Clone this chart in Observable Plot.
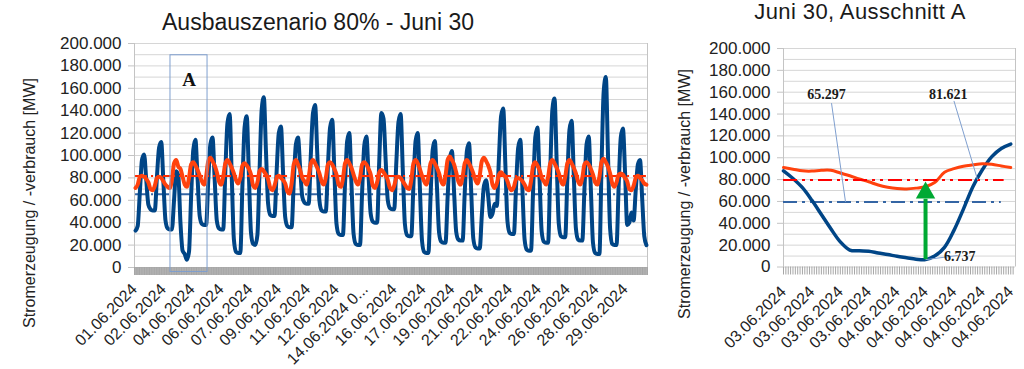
<!DOCTYPE html>
<html>
<head>
<meta charset="utf-8">
<script src="https://cdn.jsdelivr.net/npm/d3@7"></script>
<script src="https://cdn.jsdelivr.net/npm/@observablehq/plot@0.6"></script>
<style>
  html, body { margin: 0; padding: 0; background: #fff; }
  #wrap { position: relative; width: 1024px; height: 369px; overflow: hidden;
          font-family: "Liberation Sans", Arial, sans-serif; color: #222; }
  .t { position: absolute; white-space: nowrap; line-height: 1; }
  .title { font-size: 23px; line-height: 19px; color: #1a1a1a; transform: translateX(-50%); }
  .title2 { font-size: 22px; line-height: 19px; color: #1a1a1a; transform: translateX(-50%); letter-spacing: 0.4px; }
  .ytitle { font-size: 16px; line-height: 16px; transform: translate(-50%, -50%) rotate(-90deg); color: #222; }
  svg { position: absolute; top: 0; overflow: visible; }
</style>
</head>
<body>
<div id="wrap"></div>
<script>
// ---------------- DATA ----------------
// Left chart: June 2024, sampled every 3 hours (hour offsets within each day)
const sampleHours = [1.5, 4.5, 7.5, 10.5, 13.5, 16.5, 19.5, 22.5];

// Stromerzeugung (generation), thousand MW, 8 samples per day, 30 days
const generation = [
  33, 37, 67, 96, 101, 78, 56, 52,
  51, 51, 81, 107, 112, 77, 42, 35,
  34, 34, 60, 86, 82, 40, 15, 12,
  7, 14, 64, 105, 114, 80, 46, 39,
  38, 38, 77, 110, 116, 79, 42, 35,
  34, 34, 86, 129, 137, 81, 25, 14,
  13, 13, 74, 125, 135, 83, 31, 21,
  20, 29, 86, 141, 152, 104, 57, 47,
  46, 46, 86, 120, 126, 85, 45, 37,
  36, 36, 76, 110, 116, 89, 63, 58,
  57, 57, 101, 138, 145, 102, 60, 51,
  50, 50, 91, 125, 132, 86, 39, 30,
  29, 29, 75, 113, 120, 75, 30, 21,
  20, 20, 68, 109, 117, 82, 48, 41,
  40, 40, 95, 138, 133, 96, 60, 53,
  52, 52, 94, 130, 137, 88, 39, 29,
  28, 28, 74, 113, 120, 72, 24, 14,
  13, 13, 63, 105, 113, 72, 31, 23,
  22, 22, 63, 97, 104, 68, 32, 25,
  24, 24, 67, 104, 111, 69, 26, 18,
  17, 17, 47, 73, 78, 63, 45, 48,
  57, 55, 98, 135, 142, 92, 41, 31,
  30, 30, 72, 107, 114, 69, 25, 16,
  15, 15, 70, 116, 125, 79, 32, 23,
  22, 22, 86, 141, 151, 95, 39, 28,
  27, 27, 79, 123, 131, 83, 35, 25,
  24, 24, 70, 110, 117, 70, 22, 13,
  12, 12, 91, 157, 170, 102, 35, 21,
  20, 20, 72, 116, 124, 85, 38, 40,
  49, 42, 69, 92, 96, 62, 28, 20
];

// Stromverbrauch (consumption), thousand MW, 8 samples per day, 30 days
const consumption = [
  71, 74, 81, 82, 81, 79, 76, 70,
  69, 73, 80, 81, 80, 77, 74, 72,
  71, 78, 93, 96, 90, 88, 81, 74,
  72, 80, 92, 94, 91, 87, 82, 77,
  74, 81, 95, 98, 95, 91, 85, 77,
  74, 81, 93, 96, 93, 89, 84, 78,
  75, 80, 91, 93, 91, 88, 83, 73,
  71, 76, 86, 88, 86, 83, 79, 71,
  69, 73, 80, 82, 80, 78, 75, 68,
  66, 75, 92, 96, 92, 87, 80, 77,
  74, 81, 93, 96, 93, 89, 84, 77,
  74, 80, 92, 94, 92, 88, 83, 74,
  72, 79, 93, 96, 93, 89, 83, 77,
  74, 80, 92, 94, 92, 88, 83, 73,
  71, 76, 85, 87, 85, 82, 78, 71,
  69, 73, 80, 81, 80, 77, 74, 71,
  70, 78, 93, 96, 93, 88, 82, 77,
  74, 81, 93, 96, 93, 89, 84, 77,
  74, 82, 96, 99, 96, 92, 85, 77,
  74, 81, 93, 96, 93, 89, 84, 78,
  75, 82, 95, 98, 95, 91, 85, 74,
  71, 75, 83, 85, 83, 81, 77, 71,
  69, 72, 79, 80, 79, 77, 74, 70,
  69, 77, 91, 94, 91, 87, 80, 77,
  74, 81, 93, 96, 93, 89, 84, 77,
  74, 81, 93, 96, 93, 89, 84, 77,
  74, 80, 92, 94, 92, 88, 83, 76,
  74, 81, 94, 97, 94, 90, 84, 75,
  72, 76, 83, 84, 83, 80, 77, 70,
  69, 73, 80, 82, 80, 78, 75, 74
];

const meanGeneration = 65297;   // MW
const meanConsumption = 81621;  // MW
const monthHours = 720;

const xTickHours = [0, 40.5, 81, 121.5, 162, 202.5, 243, 283.5, 324, 364.5, 405, 445.5, 486, 526.5, 567, 607.5, 648, 688.5];
const xTickLabels = ["01.06.2024", "02.06.2024", "04.06.2024", "06.06.2024", "07.06.2024", "09.06.2024",
  "11.06.2024", "12.06.2024", "14.06.2024 0...", "16.06.2024", "17.06.2024", "19.06.2024",
  "21.06.2024", "22.06.2024", "24.06.2024", "26.06.2024", "28.06.2024", "29.06.2024"];

const yTicks = [0, 20000, 40000, 60000, 80000, 100000, 120000, 140000, 160000, 180000, 200000];
const yGrid = [0, 10000, 20000, 30000, 40000, 50000, 60000, 70000, 80000, 90000, 100000,
  110000, 120000, 130000, 140000, 150000, 160000, 170000, 180000, 190000, 200000];

// Box "A" on the left chart (hours, MW)
const boxA = [{ name: "A", start: 50.5, end: 102.5, low: -4000, high: 189500, labelY: 162000 }];

// Right chart: Ausschnitt A, hours since 03.06.2024 12:00
const hoursA = [0, 1, 2, 3, 4, 5, 6, 7, 8, 9, 10, 11, 12, 13, 14, 15, 16, 17, 18, 19, 20, 21, 22, 23, 24];
const generationA = [88, 81, 72.6, 61, 48, 35, 23, 15.5, 14.8, 14.4, 12.8, 11.4, 9.8, 8.5, 7.2, 6.737, 10.3, 18, 33.5, 53, 73.5, 89, 101, 108.5, 112.5];
const consumptionA = [91, 89.5, 88, 87.8, 88.5, 88.5, 86, 83.5, 80.5, 78, 75, 73, 71.8, 71.5, 72.2, 73.5, 77.5, 86.7, 90, 92.3, 93.5, 94.5, 94, 92.5, 91];
const xTickHoursA = [0, 3, 6, 9, 12, 15, 18, 21, 24];
const xTickLabelsA = ["03.06.2024", "03.06.2024", "03.06.2024", "03.06.2024", "04.06.2024", "04.06.2024", "04.06.2024", "04.06.2024", "04.06.2024"];
const refLinesA = { consumption: 79700, generation: 59500, end: 23.3 };
// annotation placement (hours, MW)
const notesA = [
  { key: "gen",  x: 4.55, y: 154000, x1: 5.07, y1: 150000, x2: 6.55, y2: 59500, anchor: "middle" },
  { key: "cons", x: 17.4, y: 154000, x1: 18.0, y1: 152000, x2: 20.5, y2: 79700, anchor: "middle" },
  { key: "min",  x: 18.6, y: 5900,   x1: null, y1: null,   x2: 18.4, y2: 10500, anchor: "start" }
];
const arrowA = { tip: 78000, base: 62000 };

// ---------------- BUILD ----------------
const fmt = d3.formatLocale({ decimal: ",", thousands: ".", grouping: [3], currency: ["", "€"] }).format(",.0f");
const FONT = '"Liberation Sans", Arial, sans-serif';
const SERIF = '"Liberation Serif", "Times New Roman", serif';
const BLUE = "#004586", ORANGE = "#ff420e", GRID = "#d6d6d6", AX = "#c4c4c4";

const genRows = generation.map((v, i) => ({ h: Math.floor(i / 8) * 24 + sampleHours[i % 8], v: v * 1000 }));
const consRows = consumption.map((v, i) => ({ h: Math.floor(i / 8) * 24 + sampleHours[i % 8], v: v * 1000 }));
const hMin = d3.min(genRows, d => d.h), hMax = d3.max(genRows, d => d.h);
const labelLeft = new Map(xTickHours.map((h, i) => [h, xTickLabels[i]]));
const denseLeft = d3.range(0, monthHours + 0.01, 1);

const left = Plot.plot({
  width: 660, height: 369,
  marginLeft: 134, marginRight: 13, marginTop: 43, marginBottom: 102,
  style: { fontFamily: FONT, background: "transparent", overflow: "visible", color: "#222" },
  x: { domain: [0, monthHours] },
  y: { domain: [0, 200000] },
  marks: [
    Plot.gridY({ ticks: yGrid, stroke: GRID, strokeOpacity: 1 }),
    Plot.ruleX([0, monthHours], { stroke: AX }),
    Plot.axisY({ ticks: yTicks, tickFormat: fmt, tickSize: 6, tickPadding: 7, fontSize: 17, stroke: AX, fill: "#222", label: null }),
    Plot.axisX({ ticks: denseLeft, tickSize: 8, tickFormat: () => "", stroke: "#a6a6a6", label: null }),
    Plot.axisX({ ticks: xTickHours, tickFormat: d => labelLeft.get(d), tickRotate: -45, tickSize: 0, tickPadding: 19, fontSize: 16, fill: "#222", label: null }),
    Plot.ruleY([meanGeneration], { x1: hMin, x2: hMax, stroke: "#3465a4", strokeWidth: 2, strokeDasharray: "12 4 2 4" }),
    Plot.line(genRows, { x: "h", y: "v", stroke: BLUE, strokeWidth: 4, curve: "monotone-x" }),
    Plot.ruleY([meanConsumption], { x1: hMin, x2: hMax, stroke: "#ff2a00", strokeWidth: 2, strokeDasharray: "12 4 2 4 2 4" }),
    Plot.line(consRows, { x: "h", y: "v", stroke: ORANGE, strokeWidth: 4, curve: "monotone-x" }),
    Plot.rect(boxA, { x1: "start", x2: "end", y1: "low", y2: "high", fill: "none", stroke: "#7f9fcf", strokeWidth: 1 }),
    Plot.text(boxA, { x: d => (d.start + d.end) / 2, y: "labelY", text: "name", fontFamily: SERIF, fontWeight: "bold", fontSize: 19, lineAnchor: "bottom", fill: "#111" })
  ]
});

const genRowsA = generationA.map((v, i) => ({ h: hoursA[i], v: v * 1000 }));
const consRowsA = consumptionA.map((v, i) => ({ h: hoursA[i], v: v * 1000 }));
const minRow = genRowsA.reduce((a, b) => (b.v < a.v ? b : a));
const labelRight = new Map(xTickHoursA.map((h, i) => [h, xTickLabelsA[i]]));
const denseRight = d3.range(0, 24.5, 0.25);
const noteText = { gen: fmt(meanGeneration), cons: fmt(meanConsumption), min: fmt(minRow.v) };
const notes = notesA.map(n => n.key === "min" ? { ...n, x1: minRow.h, y1: minRow.v, text: noteText[n.key] } : { ...n, text: noteText[n.key] });

const right = Plot.plot({
  width: 364, height: 369,
  marginLeft: 123, marginRight: 9, marginTop: 48, marginBottom: 102.5,
  style: { fontFamily: FONT, background: "transparent", overflow: "visible", color: "#222" },
  x: { domain: [0, 24.5] },
  y: { domain: [0, 200000] },
  marks: [
    Plot.gridY({ ticks: yGrid, stroke: GRID, strokeOpacity: 1 }),
    Plot.ruleX([0, 24.5], { stroke: AX }),
    Plot.axisY({ ticks: yTicks, tickFormat: fmt, tickSize: 6, tickPadding: 7, fontSize: 17, stroke: AX, fill: "#222", label: null }),
    Plot.axisX({ ticks: denseRight, tickSize: 8, tickFormat: () => "", stroke: "#a6a6a6", label: null }),
    Plot.axisX({ ticks: xTickHoursA, tickFormat: d => labelRight.get(d), tickRotate: -45, tickSize: 0, tickPadding: 22, fontSize: 16, fill: "#222", label: null }),
    Plot.ruleY([refLinesA.generation], { x1: 0, x2: refLinesA.end - 0.3, stroke: "#3465a4", strokeWidth: 2, strokeDasharray: "14 5 3 5" }),
    Plot.line(genRowsA, { x: "h", y: "v", stroke: BLUE, strokeWidth: 3.5, curve: "catmull-rom" }),
    Plot.line(consRowsA, { x: "h", y: "v", stroke: ORANGE, strokeWidth: 3, curve: "catmull-rom" }),
    Plot.ruleY([refLinesA.consumption], { x1: 0, x2: refLinesA.end, stroke: "#ff0000", strokeWidth: 2, strokeDasharray: "14 5 3 5 3 5" }),
    Plot.link(notes, { x1: "x1", y1: "y1", x2: "x2", y2: "y2", stroke: "#7f9fcf", strokeWidth: 1 }),
    Plot.ruleX([minRow], { x: "h", y1: "v", y2: arrowA.base, stroke: "#00a933", strokeWidth: 4 }),
    Plot.dot([minRow], { x: "h", y: arrowA.tip, symbol: "triangle", r: 7.2, fill: "#00a933", dy: 11 }),
    Plot.text(notes, { x: "x", y: "y", text: "text", textAnchor: d => d.anchor, fontFamily: SERIF, fontWeight: "bold", fontSize: 14, lineAnchor: "bottom", fill: "#1a1a1a" })
  ]
});

const wrap = document.getElementById("wrap");
left.style.left = "0px";
right.style.left = "660px";
wrap.appendChild(left);
wrap.appendChild(right);

function addText(cls, txt, x, y) {
  const d = document.createElement("div");
  d.className = "t " + cls;
  d.textContent = txt;
  d.style.left = x + "px";
  d.style.top = y + "px";
  wrap.appendChild(d);
}
addText("title", "Ausbauszenario 80% - Juni 30", 318, 12.5);
addText("title2", "Juni 30, Ausschnitt A", 860, 2);
addText("ytitle", "Stromerzeugung / -verbrauch [MW]", 30, 203);
addText("ytitle", "Stromerzeugung / -verbrauch [MW]", 685, 194);
</script>
</body>
</html>
